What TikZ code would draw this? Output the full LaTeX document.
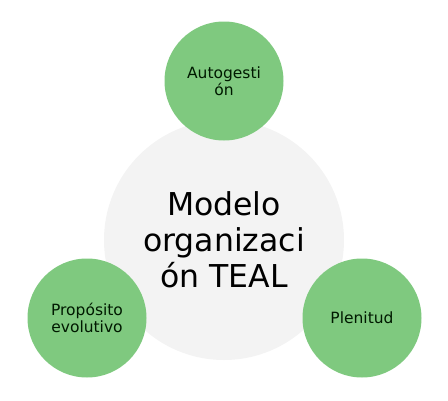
\documentclass[tikz,border=0pt]{standalone}
\usepackage{fontspec}
\setmainfont{DejaVu Sans}
\definecolor{leafgreen}{RGB}{127,201,127}
\definecolor{coregray}{RGB}{243,243,243}
\begin{document}
\begin{tikzpicture}[x=1pt,y=-1pt,
  core/.style={circle,fill=coregray,minimum size=240pt,inner sep=0pt,align=center,
    font=\fontsize{31.5}{36}\selectfont,text=black},
  leaf/.style={circle,fill=leafgreen,minimum size=119pt,inner sep=0pt,align=center,
    font=\fontsize{15.5}{17.5}\selectfont,text=black!90!green}]
\useasboundingbox (0,0) rectangle (448,400);
\node[core] (core) at (224,240) {Modelo\\organizaci\\ón TEAL};
\node[leaf] (auto) at (224,81) {Autogesti\\ón};
\node[leaf] (prop) at (87,318) {Propósito\\evolutivo};
\node[leaf] (plen) at (362,318) {Plenitud};
\end{tikzpicture}
\end{document}
